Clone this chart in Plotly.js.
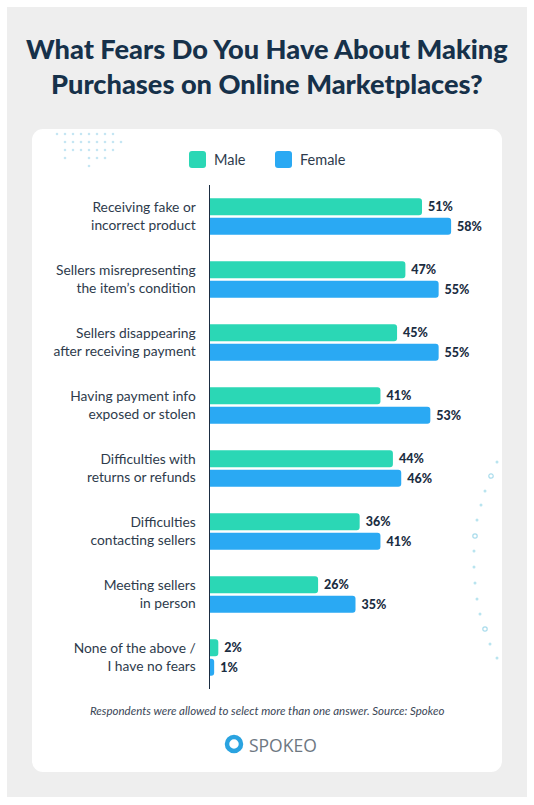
<!DOCTYPE html>
<html>
<head>
<meta charset="utf-8">
<script src="https://cdn.plot.ly/plotly-3.0.1.min.js"></script>
<style>
  html, body { margin:0; padding:0; background:#ffffff; width:534px; height:805px; overflow:hidden; }
  #bg { position:absolute; left:7px; top:7px; width:520px; height:790px; background:#eeeeee; }
  #card { position:absolute; left:32px; top:129px; width:470px; height:643px; background:#ffffff; border-radius:11px; }
  #chart { position:absolute; left:0; top:0; width:534px; height:805px; }
</style>
</head>
<body>
<div id="bg"></div>
<div id="card"></div>
<div id="chart"></div>
<script>
const categories = [
  "Receiving fake or<br>incorrect product",
  "Sellers misrepresenting<br>the item’s condition",
  "Sellers disappearing<br>after receiving payment",
  "Having payment info<br>exposed or stolen",
  "Difficulties with<br>returns or refunds",
  "Difficulties<br>contacting sellers",
  "Meeting sellers<br>in person",
  "None of the above /<br>I have no fears"
];
const maleValues   = [51, 47, 45, 41, 44, 36, 26, 2];
const femaleValues = [58, 55, 55, 53, 46, 41, 35, 1];
const seriesNames = ["Male", "Female"];
const seriesColors = ["#2bd7b5", "#2aa9f3"];
const titleText = "What Fears Do You Have About Making<br>Purchases on Online Marketplaces?";
const footnote = "Respondents were allowed to select more than one answer. Source: Spokeo";
const brand = "SPOKEO";

const W = 534, H = 805;
const L = 210, R = 33, T = 185, B = 116;
const pw = W - L - R, ph = H - T - B;
const px = x => (x - L) / pw;
const py = y => (H - B - y) / ph;

const navy = "#1b2d42";
const FONT = "Lato, 'Open Sans', sans-serif";
const valueFont = {family: FONT, size: 12.5, color: navy, weight: 900};

const traces = seriesNames.map((name, i) => ({
  type: "bar", orientation: "h", name: name,
  y: categories, x: i === 0 ? maleValues : femaleValues,
  marker: {color: seriesColors[i], line: {width: 0}},
  texttemplate: " %{x}%", textposition: "outside", textfont: valueFont,
  cliponaxis: false, hoverinfo: "skip", showlegend: false
}));

// rounded rectangle path in paper coords from pixel box
function roundRect(x0, y0, x1, y1, r) {
  const X = v => px(v), Y = v => py(v);
  return `M${X(x0 + r)},${Y(y0)} L${X(x1 - r)},${Y(y0)} Q${X(x1)},${Y(y0)} ${X(x1)},${Y(y0 + r)} ` +
         `L${X(x1)},${Y(y1 - r)} Q${X(x1)},${Y(y1)} ${X(x1 - r)},${Y(y1)} ` +
         `L${X(x0 + r)},${Y(y1)} Q${X(x0)},${Y(y1)} ${X(x0)},${Y(y1 - r)} ` +
         `L${X(x0)},${Y(y0 + r)} Q${X(x0)},${Y(y0)} ${X(x0 + r)},${Y(y0)} Z`;
}

const shapes = [];
const annotations = [];

// title
annotations.push({
  text: titleText, xref: "paper", yref: "paper", x: px(267), y: py(66),
  xanchor: "center", yanchor: "middle", showarrow: false,
  font: {family: FONT, size: 27.2, color: "#16314a", weight: 900}
});

// legend (manual)
const legendSwatchX = [189, 275];
seriesNames.forEach((name, i) => {
  const sx = legendSwatchX[i];
  shapes.push({type: "path", xref: "paper", yref: "paper", path: roundRect(sx, 151, sx + 17, 168, 3),
               fillcolor: seriesColors[i], line: {width: 0}});
  annotations.push({text: name, xref: "paper", yref: "paper", x: px(sx + 23), y: py(160),
                    xanchor: "left", yanchor: "middle", showarrow: false,
                    font: {family: FONT, size: 14.5, color: "#2e3b4c"}});
});

// footnote & brand
annotations.push({
  text: footnote, xref: "paper", yref: "paper", x: px(267), y: py(710),
  xanchor: "center", yanchor: "middle", showarrow: false,
  font: {family: FONT, size: 11.5, color: "#3a4656", style: "italic"}
});
annotations.push({
  text: brand, xref: "paper", yref: "paper", x: px(247), y: py(745),
  xanchor: "left", yanchor: "middle", showarrow: false,
  font: {family: "'Open Sans', Lato, sans-serif", size: 17.5, color: "#6e7882"}
});
shapes.push({
  type: "circle", xref: "paper", yref: "paper",
  x0: px(227), x1: px(241), y0: py(737), y1: py(751),
  line: {color: "#2aa3e0", width: 4.5}, fillcolor: "rgba(0,0,0,0)"
});

// decorative dots: top-left grid
const gridCols = [57, 65, 73, 81, 89, 97, 105, 113, 121];
const gridRows = [[134, [0,1,2,3,4,5,6,7]], [142, [1,2,3,4,5,6,7,8]], [150, [1,2,3,4,5,6,7]], [158, [1,4,5,6]], [166, [4]]];
gridRows.forEach(([yy, cols]) => cols.forEach(c => {
  const xx = gridCols[c];
  shapes.push({type: "circle", xref: "paper", yref: "paper",
    x0: px(xx - 1.3), x1: px(xx + 1.3), y0: py(yy - 1.3), y1: py(yy + 1.3),
    fillcolor: "#c5e6f3", line: {width: 0}, layer: "below"});
}));
// decorative dots: right arc
const arcDots = [[497,462,0],[491,476,1],[485,491,0],[481,505,0],[477,520,0],[475,536,1],[474,551,0],
                 [474,567,0],[475,583,0],[477,599,0],[480,614,0],[485,629,1],[490,644,0],[497,658,0]];
arcDots.forEach(([xx, yy, ring]) => {
  const r = ring ? 2.2 : 1.5;
  shapes.push({type: "circle", xref: "paper", yref: "paper",
    x0: px(xx - r), x1: px(xx + r), y0: py(yy - r), y1: py(yy + r),
    fillcolor: ring ? "rgba(0,0,0,0)" : "#b9e4ef",
    line: ring ? {color: "#a9dcec", width: 1.2} : {width: 0}, layer: "below"});
});

const layout = {
  width: W, height: H,
  margin: {l: L, r: R, t: T, b: B, pad: 0},
  paper_bgcolor: "rgba(0,0,0,0)",
  plot_bgcolor: "rgba(0,0,0,0)",
  barmode: "group",
  bargap: 0.38,
  bargroupgap: 0.12,
  barcornerradius: 3,
  font: {family: FONT, color: "#2e3b4c"},
  xaxis: {range: [0, 70], visible: false, fixedrange: true},
  yaxis: {
    type: "category", autorange: "reversed",
    showline: true, linecolor: navy, linewidth: 1.5,
    showgrid: false, zeroline: false, ticks: "",
    ticklabelstandoff: 10,
    tickfont: {family: FONT, size: 13.8, color: "#2e3b4c"},
    fixedrange: true
  },
  showlegend: false,
  annotations: annotations,
  shapes: shapes
};

Plotly.newPlot("chart", traces, layout, {displayModeBar: false, staticPlot: true});
</script>
</body>
</html>
